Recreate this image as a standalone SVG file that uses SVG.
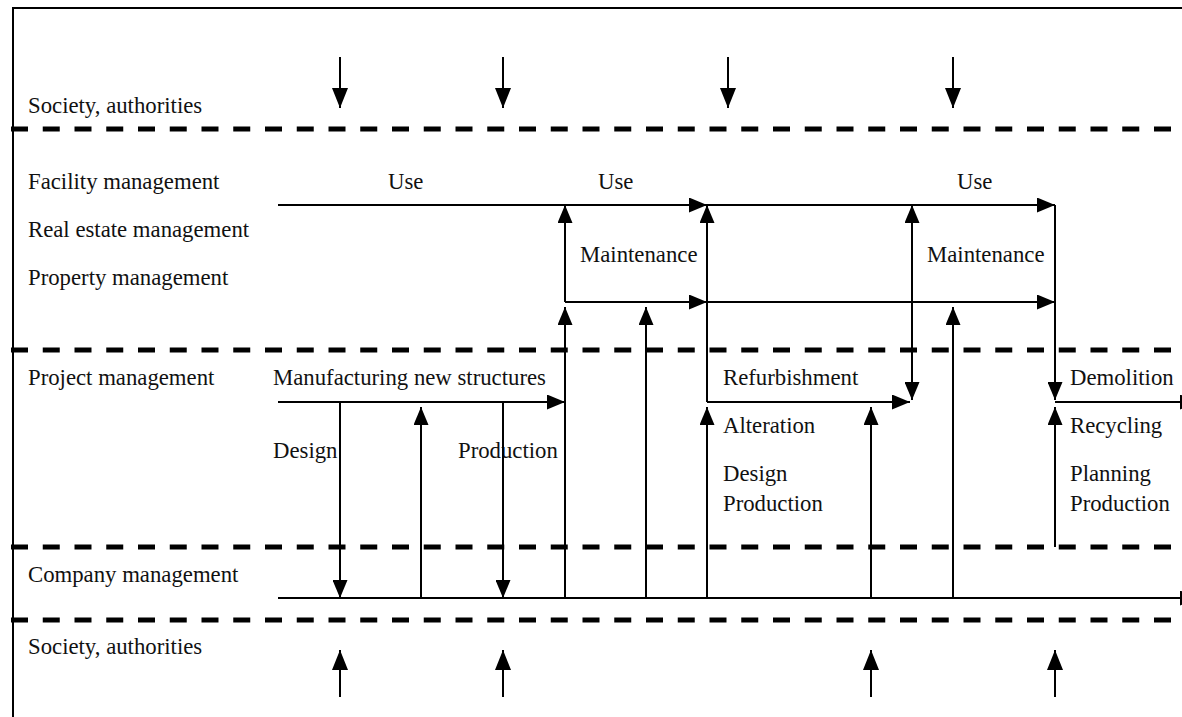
<svg xmlns="http://www.w3.org/2000/svg" width="1182" height="717" viewBox="0 0 1182 717">
<defs>
<marker id="ah" viewBox="0 0 20 16" refX="20" refY="8" markerWidth="20" markerHeight="16" markerUnits="userSpaceOnUse" orient="auto-start-reverse">
<path d="M0,0 L20,8 L0,16 z" fill="#000"/>
</marker>
<marker id="ahs" viewBox="0 0 18 15" refX="18" refY="7.5" markerWidth="18" markerHeight="15" markerUnits="userSpaceOnUse" orient="auto-start-reverse">
<path d="M0,0 L18,7.5 L0,15 z" fill="#000"/>
</marker>
<style>
.t{font-family:"Liberation Serif","Times New Roman",serif;font-size:22.75px;fill:#111;}
.ln{stroke:#000;stroke-width:2;fill:none;}
.a{stroke:#000;stroke-width:2;fill:none;marker-end:url(#ahs);}
.ab{stroke:#000;stroke-width:2;fill:none;marker-end:url(#ah);}
.d{stroke:#000;stroke-width:5;stroke-dasharray:17 14.75;fill:none;}
</style>
</defs>
<rect width="1182" height="717" fill="#fff"/>
<g id="frame">
<path class="ln" d="M13,717 V8 H1182"/>
<line class="d" x1="11" y1="129" x2="1182" y2="129"/>
<line class="d" x1="11" y1="350" x2="1182" y2="350"/>
<line class="d" x1="11" y1="547" x2="1182" y2="547"/>
<line class="d" x1="11" y1="620" x2="1182" y2="620"/>
</g>
<g id="lane-labels">
<g id="lbl-society-top"><text class="t" x="28" y="113">Society, authorities</text></g>
<g id="lbl-facility"><text class="t" x="28" y="189">Facility management</text></g>
<g id="lbl-realestate"><text class="t" x="28" y="237">Real estate management</text></g>
<g id="lbl-property"><text class="t" x="28" y="285">Property management</text></g>
<g id="lbl-project"><text class="t" x="28" y="385">Project management</text></g>
<g id="lbl-company"><text class="t" x="28" y="582">Company management</text></g>
<g id="lbl-society-bottom"><text class="t" x="28" y="654">Society, authorities</text></g>
</g>
<g id="activity-labels">
<g id="use1"><text class="t" x="388" y="189">Use</text></g>
<g id="use2"><text class="t" x="598" y="189">Use</text></g>
<g id="use3"><text class="t" x="957" y="189">Use</text></g>
<g id="maint1"><text class="t" x="580" y="262">Maintenance</text></g>
<g id="maint2"><text class="t" x="927" y="262">Maintenance</text></g>
<g id="manufacturing"><text class="t" x="273" y="385">Manufacturing new structures</text></g>
<g id="design1"><text class="t" x="273" y="458">Design</text></g>
<g id="production1"><text class="t" x="458" y="458">Production</text></g>
<g id="refurbishment"><text class="t" x="723" y="385">Refurbishment</text>
<text class="t" x="723" y="433">Alteration</text>
<text class="t" x="723" y="481">Design</text>
<text class="t" x="723" y="511">Production</text></g>
<g id="demolition"><text class="t" x="1070" y="385">Demolition</text>
<text class="t" x="1070" y="433">Recycling</text>
<text class="t" x="1070" y="481">Planning</text>
<text class="t" x="1070" y="511">Production</text></g>
</g>
<g id="connectors">
<line class="ab" x1="340" y1="57" x2="340" y2="108"/>
<line class="ab" x1="503" y1="57" x2="503" y2="108"/>
<line class="ab" x1="728" y1="57" x2="728" y2="108"/>
<line class="ab" x1="953" y1="57" x2="953" y2="108"/>
<line class="a" x1="278" y1="205" x2="707" y2="205"/>
<line class="a" x1="707" y1="205" x2="1055" y2="205"/>
<line class="a" x1="565" y1="302" x2="565" y2="205"/>
<line class="a" x1="565" y1="302" x2="707" y2="302"/>
<line class="a" x1="707" y1="302" x2="1055" y2="302"/>
<line class="a" x1="707" y1="402" x2="707" y2="205"/>
<line class="a" x1="278" y1="402" x2="565" y2="402"/>
<line class="a" x1="565" y1="598" x2="565" y2="307"/>
<line class="a" x1="646" y1="598" x2="646" y2="307"/>
<line class="a" x1="953" y1="598" x2="953" y2="307"/>
<line class="a" x1="421" y1="598" x2="421" y2="407"/>
<line class="a" x1="340" y1="402" x2="340" y2="598"/>
<line class="a" x1="503" y1="402" x2="503" y2="598"/>
<line class="a" x1="707" y1="402" x2="910" y2="402"/>
<line class="a" x1="707" y1="598" x2="707" y2="407"/>
<line class="a" x1="871" y1="598" x2="871" y2="407"/>
<line class="a" x1="912" y1="205" x2="912" y2="400" style="marker-start:url(#ahs)"/>
<line class="a" x1="1055" y1="205" x2="1055" y2="400"/>
<line class="a" x1="1055" y1="402" x2="1198" y2="402"/>
<line class="a" x1="1055" y1="547" x2="1055" y2="407"/>
<line class="a" x1="278" y1="598" x2="1198" y2="598"/>
<line class="ab" x1="340" y1="697" x2="340" y2="650"/>
<line class="ab" x1="503" y1="697" x2="503" y2="650"/>
<line class="ab" x1="871" y1="697" x2="871" y2="650"/>
<line class="ab" x1="1055" y1="697" x2="1055" y2="650"/>
</g>
</svg>
